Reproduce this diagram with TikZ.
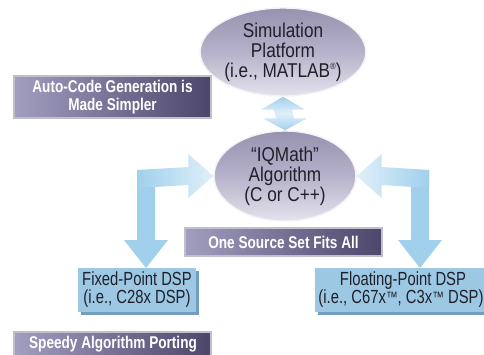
\documentclass[tikz,border=0pt]{standalone}
\usepackage{fontspec}
\setmainfont{Liberation Sans}
\newfontfamily\elfont[FakeStretch=0.86]{Liberation Sans}
\newfontfamily\cdfont[FakeStretch=0.78]{Liberation Sans}
\newfontfamily\lbfont[FakeStretch=0.8]{Liberation Sans}
\usetikzlibrary{shapes.geometric,calc}
\definecolor{arrowblue}{RGB}{160,208,236}
\definecolor{arrowpale}{RGB}{224,239,249}
\definecolor{eltop}{RGB}{150,146,176}
\definecolor{elmid}{RGB}{182,178,202}
\definecolor{elbot}{RGB}{228,226,236}
\definecolor{boxL}{RGB}{162,158,192}
\definecolor{boxR}{RGB}{76,70,106}
\definecolor{boxrim}{RGB}{192,192,204}
\definecolor{dspfill}{RGB}{156,200,228}
\definecolor{dspshade}{RGB}{116,158,190}
\definecolor{textdark}{RGB}{32,32,42}
\newcommand{\tmark}{\raisebox{1.8pt}{\fontsize{15}{15}\selectfont ™}}
\tikzset{
  ellnode/.style={ellipse, inner sep=0pt, top color=eltop, bottom color=elbot, middle color=elmid,
    draw=white!55!elbot, line width=1.4pt, text=textdark, align=center,
    font=\elfont\fontsize{20}{20}\selectfont},
  labelbox/.style={rectangle, inner sep=0pt, left color=boxL, right color=boxR,
    draw=boxrim, line width=2.4pt, text=white, align=center,
    font=\lbfont\bfseries\fontsize{17}{18.5}\selectfont},
  labeltext/.style={text=white, font=\lbfont\bfseries\fontsize{17}{18.5}\selectfont},
  dspbox/.style={rectangle, inner sep=0pt, fill=dspfill, text=textdark, align=center,
    font=\cdfont\fontsize{19}{18}\selectfont},
  dspshadow/.style={fill=dspshade},
  blockarrow/.style={draw=none}
}
\begin{document}
\begin{tikzpicture}[x=1pt,y=-1pt]
\useasboundingbox (0,0) rectangle (484,354);
\clip (0,0) rectangle (484,354);
\fill[white] (0,0) rectangle (484,354);

% ellipses
\node[ellnode, minimum width=136pt, minimum height=88pt] (sim) at (283,52)
  {Simulation\\Platform\\(i.e., MATLAB\raisebox{0.75ex}{\fontsize{9}{9}\selectfont ®})};
\node[ellnode, minimum width=142pt, minimum height=90pt] (alg) at (285,176)
  {“IQMath”\\Algorithm\\(C or C++)};

% DSP boxes
\fill[dspshadow] (81,271) rectangle (199,315);
\node[dspbox, minimum width=118pt, minimum height=44pt] (fixed) at (137,290)
  {Fixed-Point DSP\\(i.e., C28x DSP)};
\fill[dspshadow] (318,271) rectangle (494,315);
\node[dspbox, minimum width=176pt, minimum height=44pt] (float) at (403,290)
  {\makebox[0pt]{Floating-Point DSP}\\\makebox[0pt]{\hspace*{-4pt}(i.e., C67x\tmark, C3x\tmark{} DSP)}};

% coordinates for block arrows
\coordinate (ltip) at (alg.west);
\coordinate (rtip) at (alg.east);
\coordinate (dtop) at (sim.south);
\coordinate (dbot) at (alg.north);
\coordinate (lvtip) at (146,268);
\coordinate (rvtip) at (420,268);

% left L-arrow
\fill[arrowblue,blockarrow] (137,170) -- (155,170) -- (155,240) -- (168,240) -- (lvtip) -- (124,240) -- (137,240) -- cycle;
\shade[left color=arrowblue,right color=arrowpale,blockarrow] (137,170) -- ($(ltip)+(-25,-9)$) -- ($(ltip)+(-25,-22)$) -- (ltip) -- ($(ltip)+(-25,22)$) -- ($(ltip)+(-25,9)$) -- (137,188) -- cycle;

% right L-arrow
\fill[arrowblue,blockarrow] (411,170) -- (429,170) -- (429,240) -- (442,240) -- (rvtip) -- (398,240) -- (411,240) -- cycle;
\shade[left color=arrowpale,right color=arrowblue,blockarrow] (429,170) -- ($(rtip)+(25,-9)$) -- ($(rtip)+(25,-22)$) -- (rtip) -- ($(rtip)+(25,22)$) -- ($(rtip)+(25,9)$) -- (429,188) -- cycle;

% double arrow between ellipses
\shade[top color=arrowblue,bottom color=arrowblue,middle color=arrowpale,blockarrow]
  (dtop) -- ($(dtop)+(22,13)$) -- ($(dtop)+(9,13)$) -- ($(dbot)+(9,-12)$) -- ($(dbot)+(22,-12)$) -- (dbot)
  -- ($(dbot)+(-22,-12)$) -- ($(dbot)+(-9,-12)$) -- ($(dtop)+(-9,13)$) -- ($(dtop)+(-22,13)$) -- cycle;

% purple label boxes
\node[labelbox, minimum width=197pt, minimum height=42pt] (auto) at (112.5,97)
  {Auto-Code Generation is\\Made Simpler};
\node[labelbox, minimum width=197pt, minimum height=28pt] (one) at (283.5,242)
  {One Source Set Fits All};
\node[labelbox, minimum width=197pt, minimum height=34pt] (speedy) at (112.5,349) {};
\node[labeltext] (speedytxt) at (113,344.5) {Speedy Algorithm Porting};
\end{tikzpicture}
\end{document}
